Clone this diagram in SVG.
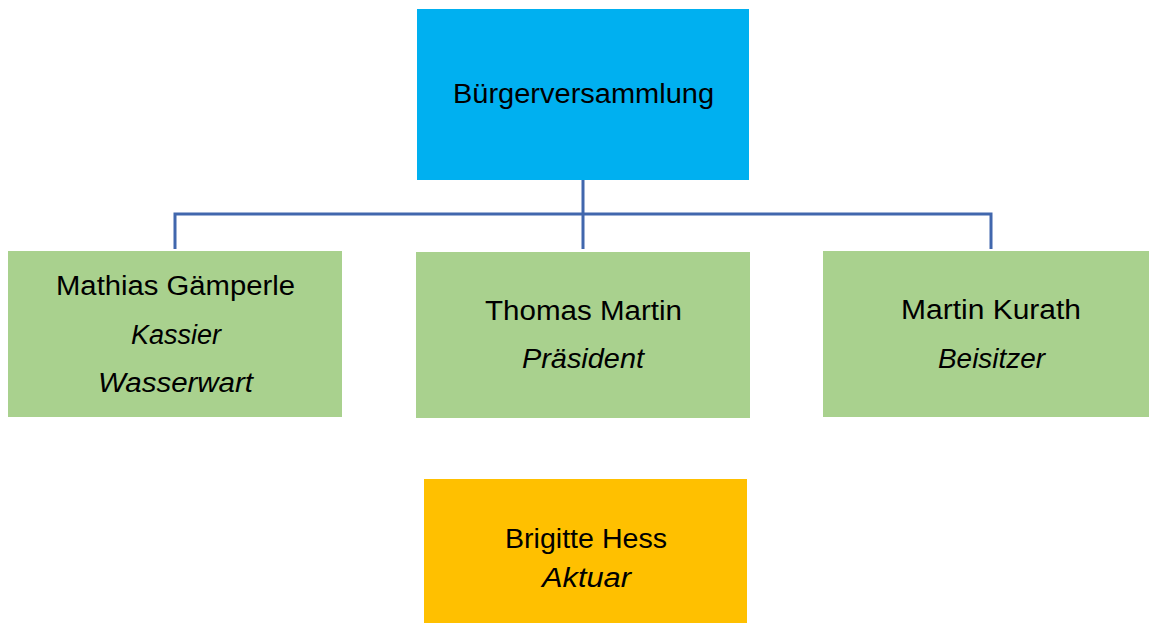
<svg xmlns="http://www.w3.org/2000/svg" width="1149" height="623" viewBox="0 0 1149 623">
<style>
.t{font-family:"Liberation Sans",Arial,sans-serif;font-size:27px;fill:#000;text-anchor:middle}
.i{font-style:italic}
.con{fill:none;stroke:#4167AD;stroke-width:3}
</style>
<rect width="1149" height="623" fill="#fff"/>
<g id="connectors">
<path class="con" d="M583 180V249M175 249V214H991V249"/>
</g>
<g id="buergerversammlung">
<rect x="417" y="9" width="332" height="171" fill="#00B0F0"/>
<text class="t" x="583.5" y="103" textLength="261" lengthAdjust="spacingAndGlyphs">Bürgerversammlung</text>
</g>
<g id="gaemperle">
<rect x="8" y="251" width="334" height="166" fill="#A9D18E"/>
<text class="t" x="175.5" y="295" textLength="239" lengthAdjust="spacingAndGlyphs">Mathias Gämperle</text>
<text class="t i" x="176" y="344" textLength="90" lengthAdjust="spacingAndGlyphs">Kassier</text>
<text class="t i" x="175.5" y="392" textLength="155" lengthAdjust="spacingAndGlyphs">Wasserwart</text>
</g>
<g id="martin">
<rect x="416" y="252" width="334" height="166" fill="#A9D18E"/>
<text class="t" x="583.5" y="320" textLength="197" lengthAdjust="spacingAndGlyphs">Thomas Martin</text>
<text class="t i" x="583" y="368" textLength="122" lengthAdjust="spacingAndGlyphs">Präsident</text>
</g>
<g id="kurath">
<rect x="823" y="251" width="326" height="166" fill="#A9D18E"/>
<text class="t" x="991" y="319" textLength="180" lengthAdjust="spacingAndGlyphs">Martin Kurath</text>
<text class="t i" x="991.5" y="368" textLength="107" lengthAdjust="spacingAndGlyphs">Beisitzer</text>
</g>
<g id="hess">
<rect x="424" y="479" width="323" height="144" fill="#FFC000"/>
<text class="t" x="586" y="548" textLength="162" lengthAdjust="spacingAndGlyphs">Brigitte Hess</text>
<text class="t i" x="586.5" y="587" textLength="89" lengthAdjust="spacingAndGlyphs">Aktuar</text>
</g>
</svg>
